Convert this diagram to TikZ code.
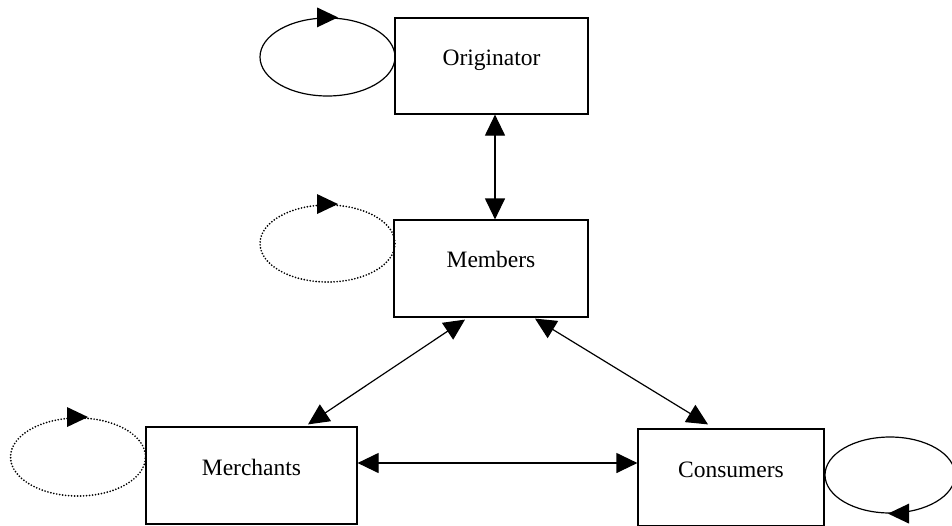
\documentclass[tikz,border=0pt]{standalone}
\usepackage{fontspec}
\setmainfont{Liberation Serif}
\usetikzlibrary{arrows.meta,shapes.geometric,calc}
\begin{document}
\begin{tikzpicture}[x=1pt,y=-1pt,
  box/.style={draw,line width=1.2pt,minimum height=97pt,inner sep=0pt},
  lab/.style={anchor=base,inner sep=0pt,font=\fontsize{23.5}{28}\selectfont},
  loopsolid/.style={draw,ellipse,line width=1.2pt,minimum width=135pt,minimum height=78pt,inner sep=0pt},
  loopdot/.style={loopsolid,line width=1.9pt,line cap=round,dash pattern=on 0pt off 3pt},
  dbl/.style={line width=1.2pt,{Triangle[length=21pt,width=20pt]}-{Triangle[length=21pt,width=20pt]}},
]
\useasboundingbox (0,0) rectangle (952,525);

% boxes
\node[box,minimum width=193pt,minimum height=96pt] (orig) at (491.5,66) {};
\node[box,minimum width=194pt] (memb) at (491,268.5) {};
\node[box,minimum width=211pt] (merch) at (251.5,475.5) {};
\node[box,minimum width=186pt] (cons) at (731,477.5) {};

% labels
\node[lab] (origt) at ($(orig.north)+(0,48.5)$) {Originator};
\node[lab] (membt) at ($(memb.north)+(0,48.5)$) {Members};
\node[lab] (mercht) at ($(merch.north)+(0,49)$) {Merchants};
\node[lab] (const) at ($(cons.north)+(0,49)$) {Consumers};

% self loops
\node[loopsolid] (loop1) at (327.5,57) {};
\node[loopdot,minimum height=77pt] (loop2) at (327.5,243.5) {};
\node[loopdot] (loop3) at (78,457) {};
\node[loopsolid,minimum width=130pt,minimum height=76pt] (loop4) at (890,475) {};

\fill ($(loop1.north)+(10.5,0)$) -- ++(-21,-10) -- ++(0,20) -- cycle;
\fill ($(loop2.north)+(10.5,0)$) -- ++(-21,-10) -- ++(0,20) -- cycle;
\fill ($(loop3.north)+(10,0)$) -- ++(-21,-10) -- ++(0,20) -- cycle;
\fill ($(loop4.south)+(-2,0)$) -- ++(21,-10) -- ++(0,20) -- cycle;

% connectors
\draw[dbl] ([xshift=3.5pt]orig.south) -- ([xshift=3.5pt]orig.south |- memb.north);
\draw[dbl] ($(memb.south)+(-26,2)$) -- ($(merch.north)+(56.5,-2)$);
\draw[dbl] ($(memb.south)+(44,1)$) -- ($(cons.north)+(-23,-4)$);
\draw[dbl] ([yshift=12.5pt]merch.east) -- ([yshift=12.5pt]merch.east -| cons.west);
\end{tikzpicture}
\end{document}
